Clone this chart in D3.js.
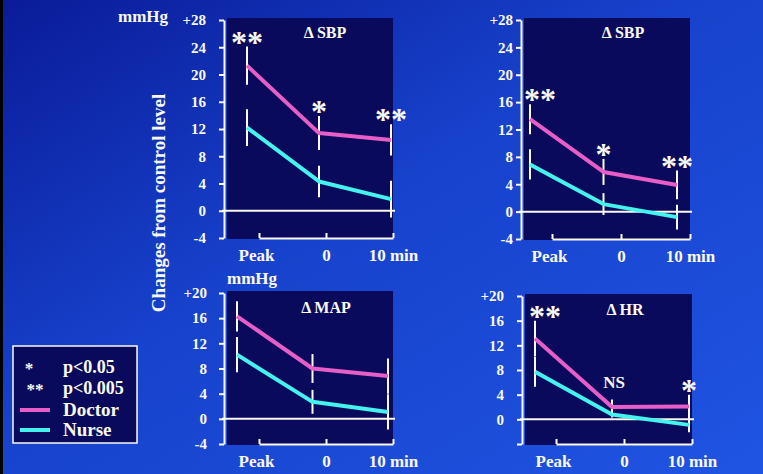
<!DOCTYPE html>
<html>
<head>
<meta charset="utf-8">
<script src="https://cdn.jsdelivr.net/npm/d3@7"></script>
<style>
body { margin: 0; background: #000; }
svg { display: block; font-family: "Liberation Serif", "Times New Roman", serif; font-weight: bold; }
</style>
</head>
<body>
<svg id="chart" width="763" height="474"></svg>
<script>
const timeLabels = ["Peak", "0", "10 min"];

// mean change from control level and SE
const sbp1Doctor = [21.3, 11.4, 10.4];
const sbp1DoctorSe = [2.8, 2.5, 2.3];
const sbp1Nurse = [12.2, 4.3, 1.7];
const sbp1NurseSe = [2.7, 2.3, 2.7];
const sbp1Sig = ["**", "*", "**"];

const sbp2Doctor = [13.5, 5.8, 3.9];
const sbp2DoctorSe = [2.2, 1.9, 2.1];
const sbp2Nurse = [6.9, 1.1, -0.8];
const sbp2NurseSe = [2.2, 1.6, 1.8];
const sbp2Sig = ["**", "*", "**"];

const mapDoctor = [16.3, 8.0, 6.8];
const mapDoctorSe = [2.4, 2.3, 2.8];
const mapNurse = [10.2, 2.7, 1.1];
const mapNurseSe = [2.8, 1.9, 2.8];
const mapSig = ["", "", ""];

const hrDoctor = [13.1, 2.0, 2.1];
const hrDoctorSe = [2.9, 1.2, 1.9];
const hrNurse = [7.7, 0.8, -0.9];
const hrNurseSe = [2.4, 0.5, 1.2];
const hrSig = ["**", "NS", "*"];

const ticksSbp = [-4, 0, 4, 8, 12, 16, 20, 24, 28];
const ticksSmall = [-4, 0, 4, 8, 12, 16, 20];

const legendSig = [["*", "p<0.05"], ["**", "p<0.005"]];
const legendSeries = ["Doctor", "Nurse"];

const WHITE = "#fbfaf0";
const PINK = "#e85ec8";
const CYAN = "#44f2ee";
const PANEL = "#0a0a5c";

const svg = d3.select("#chart");

// background
const defs = svg.append("defs");
const grad = defs.append("linearGradient").attr("id", "bg")
    .attr("x1", 0).attr("y1", 0).attr("x2", 1).attr("y2", 1);
grad.append("stop").attr("offset", "0%").attr("stop-color", "#0a1b98");
grad.append("stop").attr("offset", "45%").attr("stop-color", "#1742cc");
grad.append("stop").attr("offset", "100%").attr("stop-color", "#1f54e2");
svg.append("rect").attr("width", 763).attr("height", 474).attr("fill", "url(#bg)");
svg.append("rect").attr("width", 3).attr("height", 474).attr("fill", "#000");

const panels = [
    { title: "\u0394 SBP", doc: sbp1Doctor, docSe: sbp1DoctorSe, nur: sbp1Nurse, nurSe: sbp1NurseSe, sig: sbp1Sig,
      ticks: ticksSbp, ax: 224, right: 393, x0: 247, x1: 391, xa0: 259, yTop: 20, yBot: 238,
      title_xy: [325, 38], starDx: 0, hideMin: false, pad: 13 },
    { title: "\u0394 SBP", doc: sbp2Doctor, docSe: sbp2DoctorSe, nur: sbp2Nurse, nurSe: sbp2NurseSe, sig: sbp2Sig,
      ticks: ticksSbp, ax: 521, right: 690, x0: 530, x1: 677, xa0: 552, yTop: 20, yBot: 239,
      title_xy: [623, 38], starDx: 10, hideMin: false, pad: 3 },
    { title: "\u0394 MAP", doc: mapDoctor, docSe: mapDoctorSe, nur: mapNurse, nurSe: mapNurseSe, sig: mapSig,
      ticks: ticksSmall, ax: 224, right: 393, x0: 237, x1: 388, xa0: 259, yTop: 293, yBot: 444,
      title_xy: [326, 313], starDx: 0, hideMin: false, pad: 12 },
    { title: "\u0394 HR", doc: hrDoctor, docSe: hrDoctorSe, nur: hrNurse, nurSe: hrNurseSe, sig: hrSig,
      ticks: ticksSmall, ax: 522, right: 692, x0: 535, x1: 689, xa0: 556, yTop: 296, yBot: 444,
      title_xy: [625, 315], starDx: 10, hideMin: true, pad: 13 }
];

panels.forEach(p => {
    const g = svg.append("g");
    const lo = d3.min(p.ticks), hi = d3.max(p.ticks);
    const y = d3.scaleLinear().domain([lo, hi]).range([p.yBot, p.yTop]);
    const x = d3.scaleLinear().domain([0, 2]).range([p.x0, p.x1]);
    const xa = d3.scaleLinear().domain([0, 2]).range([p.xa0, p.right]);

    g.append("rect")
        .attr("x", p.ax + 3).attr("y", p.yTop - 2)
        .attr("width", p.right - p.ax - 3).attr("height", p.yBot - p.yTop + 3)
        .attr("fill", PANEL);

    // y axis
    const yAxis = d3.axisLeft(y).tickValues(p.ticks).tickSize(5).tickSizeOuter(0).tickPadding(p.pad)
        .tickFormat(d => d === hi ? "+" + d : (d === lo && p.hideMin ? "" : d));
    const ya = g.append("g").attr("transform", `translate(${p.ax},0)`).call(yAxis);
    ya.selectAll("path, line").attr("stroke", WHITE).attr("stroke-width", 2);
    ya.selectAll("text").attr("fill", WHITE).attr("font-size", 15)
        .attr("font-family", "Liberation Serif").attr("font-weight", "bold");

    // bottom time axis
    const xAxis = d3.axisBottom(xa).tickValues([0, 1, 2]).tickSize(-5).tickSizeOuter(0).tickPadding(11)
        .tickFormat(i => timeLabels[i]);
    const xg = g.append("g").attr("transform", `translate(0,${p.yBot})`).call(xAxis);
    xg.selectAll("path, line").attr("stroke", WHITE).attr("stroke-width", 2);
    xg.selectAll("text").attr("fill", WHITE).attr("font-size", 17)
        .attr("font-family", "Liberation Serif").attr("font-weight", "bold")
        .attr("dx", (d, i) => i === 0 ? -3 : 0);

    // zero line
    g.append("line")
        .attr("x1", p.ax - 2).attr("x2", p.right + 2)
        .attr("y1", y(0)).attr("y2", y(0))
        .attr("stroke", WHITE).attr("stroke-width", 2);

    // SE bars
    const series = [
        { vals: p.doc, se: p.docSe, color: PINK },
        { vals: p.nur, se: p.nurSe, color: CYAN }
    ];
    series.forEach(s => {
        g.selectAll(null).data(s.vals).enter().append("line")
            .attr("x1", (d, i) => x(i)).attr("x2", (d, i) => x(i))
            .attr("y1", (d, i) => y(d + s.se[i])).attr("y2", (d, i) => y(d - s.se[i]))
            .attr("stroke", WHITE).attr("stroke-width", 2);
    });
    series.forEach(s => {
        g.append("path").datum(s.vals)
            .attr("d", d3.line().x((d, i) => x(i)).y(d => y(d)))
            .attr("fill", "none").attr("stroke", s.color)
            .attr("stroke-width", 4).attr("stroke-linejoin", "round");
    });

    // significance marks
    p.sig.forEach((s, i) => {
        if (!s) return;
        const top = y(p.doc[i] + p.docSe[i]);
        if (s === "NS") {
            g.append("text").attr("x", x(i) + 2).attr("y", top - 12)
                .attr("text-anchor", "middle").attr("font-size", 17).attr("fill", WHITE).text(s);
        } else {
            g.append("text").attr("x", x(i) + (i === 0 ? p.starDx : 0)).attr("y", top + 6)
                .attr("text-anchor", "middle").attr("font-size", 32).attr("fill", WHITE).text(s);
        }
    });

    g.append("text").attr("x", p.title_xy[0]).attr("y", p.title_xy[1])
        .attr("text-anchor", "middle").attr("font-size", 16).attr("fill", WHITE).text(p.title);
});

// units and shared y label
svg.append("text").attr("x", 118).attr("y", 22).attr("font-size", 17).attr("fill", WHITE).text("mmHg");
svg.append("text").attr("x", 252).attr("y", 284).attr("text-anchor", "middle")
    .attr("font-size", 17).attr("fill", WHITE).text("mmHg");
svg.append("text").attr("transform", "translate(165,203) rotate(-90)")
    .attr("text-anchor", "middle").attr("font-size", 19).attr("fill", WHITE)
    .text("Changes from control level");

// legend
const lg = svg.append("g");
lg.append("rect").attr("x", 13).attr("y", 346).attr("width", 124).attr("height", 97)
    .attr("fill", PANEL).attr("stroke", WHITE).attr("stroke-width", 1.5);
legendSig.forEach((d, i) => {
    const yy = 373 + i * 21;
    lg.append("text").attr("x", i === 0 ? 29 : 35).attr("y", yy + 1).attr("text-anchor", "middle")
        .attr("font-size", 17).attr("fill", WHITE).text(d[0]);
    lg.append("text").attr("x", 63).attr("y", yy).attr("font-size", 18).attr("fill", WHITE).text(d[1]);
});
legendSeries.forEach((d, i) => {
    const yy = 410 + i * 20;
    lg.append("line").attr("x1", 20).attr("x2", 50).attr("y1", yy).attr("y2", yy)
        .attr("stroke", i === 0 ? PINK : CYAN).attr("stroke-width", 4);
    lg.append("text").attr("x", 63).attr("y", yy + 6).attr("font-size", 19).attr("fill", WHITE).text(d);
});
</script>
</body>
</html>
